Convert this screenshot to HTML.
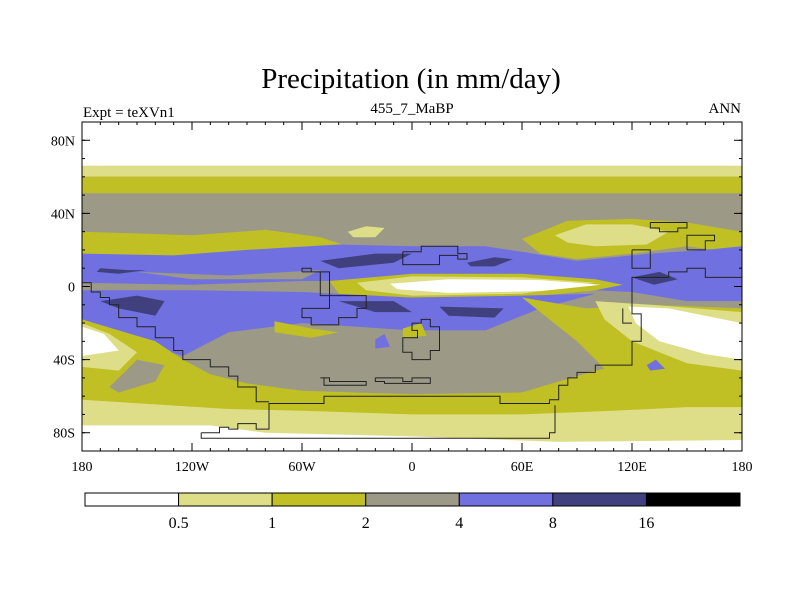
<!DOCTYPE html>
<html><head><meta charset="utf-8"><style>
body{margin:0;background:#fff;}
svg{display:block;font-family:"Liberation Serif",serif;}
</style></head><body>
<svg id="chart" width="800" height="600" viewBox="0 0 800 600">
<rect width="800" height="600" fill="#fff"/>
<text x="411" y="88" font-size="29" text-anchor="middle">Precipitation (in mm/day)</text>
<text x="83" y="117" font-size="15">Expt = teXVn1</text>
<text x="412" y="113" font-size="15" text-anchor="middle">455_7_MaBP</text>
<text x="741" y="113" font-size="15" text-anchor="end">ANN</text>
<defs><clipPath id="pc"><rect x="82" y="122" width="660" height="329"/></clipPath></defs>
<g id="map" clip-path="url(#pc)"></g>
<g id="coast" clip-path="url(#pc)"></g>
<rect x="82" y="122" width="660" height="329" fill="none" stroke="#000" stroke-width="1"/>
<g id="axes"></g>
<g id="cbar"></g>
</svg>
<script>
const levels=["0.5","1","2","4","8","16"];
const colors=["#ffffff","#dede88","#c0c024","#9c9a86","#7070e0","#40407f","#000000"];
const latTicks=[80,40,0,-40,-80];
const latLabels=["80N","40N","0","40S","80S"];
const lonTicks=[-180,-120,-60,0,60,120,180];
const lonLabels=["180","120W","60W","0","60E","120E","180"];
// contour regions: [colorIndex, [[lon,lat],...]]
const regions=[
 [3,[[-180,90],[180,90],[180,-90],[-180,-90]]],
 [0,[[-180,90],[180,90],[180,66],[-180,66]]],
 [1,[[-180,66],[180,66],[180,60],[-180,60]]],
 [2,[[-180,60],[180,60],[180,51],[-180,51]]],
 [2,[[-180,30],[-120,28],[-80,31],[-50,27],[-35,22],[-60,18],[-120,16],[-180,13]]],
 [2,[[60,26],[85,36],[120,37],[150,35],[180,30],[180,18],[150,22],[120,18],[90,15],[70,18]]],
 [1,[[78,28],[95,34],[120,34],[140,30],[128,23],[100,22],[85,24]]],
 [1,[[-35,30],[-25,33],[-15,32],[-20,27],[-32,27]]],
 [4,[[-180,18],[-130,17],[-90,20],[-40,23],[0,22],[40,22],[60,19],[90,14],[130,18],[160,20],[180,22],[180,-8],[150,-8],[120,-3],[100,-2],[60,0],[0,3],[-60,3],[-120,1],[-180,2]]],
 [3,[[-150,8],[-100,6],[-50,9],[-60,4],[-120,4]]],
 [5,[[-170,10],[-155,9],[-145,9],[-160,7],[-172,8]]],
 [5,[[-50,14],[-20,18],[0,18],[-10,13],[-40,10]]],
 [5,[[30,13],[45,16],[55,15],[45,11],[32,11]]],
 [5,[[120,5],[135,8],[145,4],[132,1]]],
 [2,[[-45,3],[0,7],[60,7],[100,4],[115,1],[100,-2],[60,-6],[0,-7],[-40,-4]]],
 [1,[[-30,2],[0,5.5],[60,5],[100,2],[60,-4],[0,-5],[-25,-2]]],
 [0,[[-12,1.5],[20,4],[70,3.5],[103,1],[70,-2.5],[20,-3.5],[-8,-1.5]]],
 [4,[[-180,-2],[-120,-2],[-60,-3],[0,-6],[60,-5],[100,-4],[70,-12],[40,-24],[0,-24],[-60,-20],[-100,-25],[-125,-38],[-150,-30],[-180,-18]]],
 [5,[[-170,-8],[-150,-5],[-135,-8],[-140,-16],[-160,-12]]],
 [5,[[-40,-8],[-10,-8],[0,-14],[-20,-14]]],
 [5,[[15,-11],[50,-12],[45,-17],[20,-16]]],
 [2,[[-180,-18],[-160,-24],[-140,-30],[-125,-40],[-110,-48],[-90,-53],[-60,-57],[0,-59],[60,-58],[80,-52],[100,-46],[120,-42],[140,-46],[180,-45],[180,-90],[-180,-90]]],
 [3,[[-150,-40],[-135,-43],[-140,-52],[-160,-58],[-165,-55]]],
 [1,[[-180,-20],[-165,-26],[-150,-36],[-160,-46],[-180,-44]]],
 [0,[[-180,-22],[-168,-26],[-160,-35],[-180,-38]]],
 [1,[[-180,-62],[-100,-67],[-60,-68],[0,-70],[60,-70],[110,-68],[150,-66],[180,-66],[180,-90],[-180,-90]]],
 [0,[[-180,-76],[-110,-76],[-80,-80],[0,-82],[80,-85],[180,-84],[180,-90],[-180,-90]]],
 [2,[[60,-6],[95,-12],[130,-10],[180,-12],[180,-50],[140,-56],[110,-50],[90,-30],[70,-14]]],
 [1,[[100,-8],[130,-10],[180,-14],[180,-46],[150,-42],[120,-30],[105,-18]]],
 [0,[[118,-11],[140,-12],[180,-20],[180,-40],[160,-37],[135,-30],[122,-20]]],
 [2,[[-75,-19],[-55,-23],[-40,-25],[-55,-28],[-75,-25]]],
 [2,[[-5,-23],[5,-20],[8,-27],[-5,-28]]],
 [4,[[-20,-29],[-15,-26],[-12,-33],[-20,-34]]],
 [4,[[128,-43],[133,-40],[138,-45],[130,-46]]]
];
// coastline stepped outlines [lon,lat]
const coasts=[
 [[-115,-80],[-105,-80],[-105,-77],[-100,-77],[-100,-78],[-95,-78],[-95,-75],[-85,-75],[-85,-78],[-78,-78],[-78,-64],[-48,-64],[-48,-60],[48,-60],[48,-64],[75,-64],[75,-62],[80,-62],[80,-54],[85,-54],[85,-50],[90,-50],[90,-47],[100,-47],[100,-43],[120,-43],[120,-30],[125,-30],[125,-15],[120,-15],[120,5],[140,5],[140,8],[150,8],[150,10],[160,10],[160,5],[180,5]],
 [[-115,-80],[-115,-83],[75,-83],[75,-80],[78,-80],[78,-65]],
 [[-180,2],[-175,2],[-175,-3],[-170,-3],[-170,-6],[-165,-6],[-165,-10],[-160,-10],[-160,-17],[-150,-17],[-150,-22],[-140,-22],[-140,-28],[-130,-28],[-130,-35],[-125,-35],[-125,-40],[-110,-40],[-110,-44],[-100,-44],[-100,-49],[-95,-49],[-95,-55],[-85,-55],[-85,-63],[-78,-63]],
 [[-60,8],[-50,8],[-50,-5],[-45,-5],[-45,-12],[-60,-12],[-60,-17],[-55,-17],[-55,-21],[-40,-21],[-40,-17],[-30,-17],[-30,-12],[-25,-12],[-25,-5],[-45,-5],[-45,8],[-55,8],[-55,10],[-60,10],[-60,8]],
 [[-5,19],[5,19],[5,22],[25,22],[25,18],[30,18],[30,15],[25,15],[25,17],[15,17],[15,12],[-5,12],[-5,19]],
 [[0,-20],[5,-20],[5,-18],[10,-18],[10,-22],[15,-22],[15,-35],[10,-35],[10,-40],[0,-40],[0,-36],[-5,-36],[-5,-28],[3,-28],[3,-24],[0,-24],[0,-20]],
 [[-50,-50],[-45,-50],[-45,-52],[-25,-52],[-25,-54],[-48,-54],[-48,-50]],
 [[-20,-50],[-5,-50],[-5,-52],[0,-52],[0,-50],[10,-50],[10,-53],[-15,-53],[-15,-52],[-20,-52],[-20,-50]],
 [[130,35],[150,35],[150,32],[145,32],[145,30],[135,30],[135,32],[130,32],[130,35]],
 [[150,20],[150,28],[165,28],[165,25],[160,25],[160,20],[150,20]],
 [[120,20],[120,10],[130,10],[130,20],[120,20]],
 [[115,-12],[115,-20],[120,-20]]
];
const X=lon=>412+lon*1.8333;
const Y=lat=>122+(90-lat)*1.8278;
const NS="http://www.w3.org/2000/svg";
const map=document.getElementById('map');
regions.forEach((r,i)=>{
 const p=document.createElementNS(NS,'polygon');
 p.setAttribute('points',r[1].map(q=>X(q[0]).toFixed(1)+','+Y(q[1]).toFixed(1)).join(' '));
 p.setAttribute('fill',colors[r[0]]);
 
 
 map.appendChild(p);
});
const coast=document.getElementById('coast');
coasts.forEach(c=>{
 const p=document.createElementNS(NS,'polyline');
 p.setAttribute('points',c.map(q=>X(q[0]).toFixed(1)+','+Y(q[1]).toFixed(1)).join(' '));
 p.setAttribute('fill','none');p.setAttribute('stroke','#222');p.setAttribute('stroke-width','1');
 
 
 coast.appendChild(p);
});
const axes=document.getElementById('axes');
function line(x1,y1,x2,y2){const l=document.createElementNS(NS,'line');l.setAttribute('x1',x1);l.setAttribute('y1',y1);l.setAttribute('x2',x2);l.setAttribute('y2',y2);l.setAttribute('stroke','#000');l.setAttribute('stroke-width','1');
 
 
 axes.appendChild(l);}
function txt(x,y,s,anchor,name){const t=document.createElementNS(NS,'text');t.setAttribute('x',x);t.setAttribute('y',y);t.setAttribute('font-size','14');t.setAttribute('text-anchor',anchor);t.textContent=s;
 
 
 axes.appendChild(t);}
for(let lat=-90;lat<=90;lat+=10){const y=Y(lat);line(82,y,85,y);line(742,y,739,y);}
for(let lon=-180;lon<=180;lon+=10){const x=X(lon);line(x,122,x,125);line(x,451,x,448);}
latTicks.forEach((v,i)=>{const y=Y(v);line(82,y,90,y);line(742,y,734,y);txt(75,y+5,latLabels[i],'end','y-tick-label');});
lonTicks.forEach((v,i)=>{const x=X(v);line(x,451,x,443);line(x,122,x,130);txt(x,471,lonLabels[i],'middle','x-tick-label');});
const cb=document.getElementById('cbar');
const bw=(740-85)/colors.length;
colors.forEach((c,i)=>{const r=document.createElementNS(NS,'rect');r.setAttribute('x',85+i*bw);r.setAttribute('y',493);r.setAttribute('width',bw);r.setAttribute('height',13);r.setAttribute('fill',c);r.setAttribute('stroke','#000');r.setAttribute('stroke-width','1');
 
 
 cb.appendChild(r);});
levels.forEach((s,i)=>{const t=document.createElementNS(NS,'text');t.setAttribute('x',85+(i+1)*bw);t.setAttribute('y',528);t.setAttribute('font-size','16');t.setAttribute('text-anchor','middle');t.textContent=s;
 
 
 cb.appendChild(t);});
</script>
</body></html>
